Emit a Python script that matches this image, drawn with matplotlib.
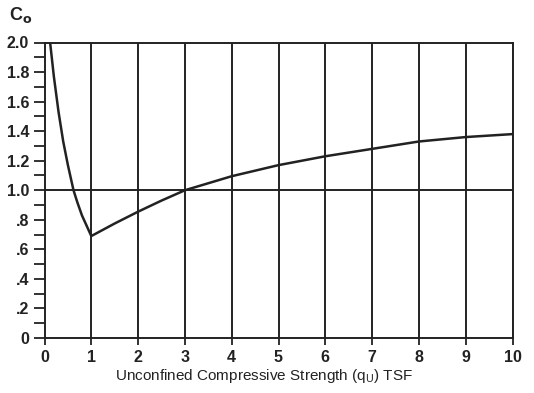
import matplotlib
matplotlib.use("Agg")
import matplotlib.pyplot as plt
import numpy as np

# Data
qu = [0.12, 0.2, 0.3, 0.4, 0.5, 0.62, 0.7, 0.8, 0.9, 1.0, 1.5, 2.0, 2.5, 3.0, 4.0, 5.0, 6.0, 7.0, 8.0, 9.0, 10.0]
co = [2.00, 1.77, 1.53, 1.33, 1.17, 1.00, 0.92, 0.83, 0.76, 0.69, 0.775, 0.855, 0.93, 1.00, 1.095, 1.17, 1.23, 1.28, 1.33, 1.36, 1.38]

x_ticks = list(range(0, 11))
x_labels = [str(v) for v in x_ticks]
y_ticks = [0, 0.2, 0.4, 0.6, 0.8, 1.0, 1.2, 1.4, 1.6, 1.8, 2.0]
y_labels = ["0", ".2", ".4", ".6", ".8", "1.0", "1.2", "1.4", "1.6", "1.8", "2.0"]

plt.rcParams['font.family'] = ['Liberation Sans', 'DejaVu Sans']
ink = '#222222'

fig = plt.figure(figsize=(5.34, 3.93), dpi=100)
ax = fig.add_axes([44.5/534, 1 - 338/393, (512.5-44.5)/534, (338-42.5)/393])

ax.plot(qu, co, color=ink, lw=1.8, solid_capstyle='round', solid_joinstyle='round')
ax.axhline(1.0, color=ink, lw=1.4)
for xv in x_ticks[1:]:
    ax.axvline(xv, color=ink, lw=1.4)

ax.set_xlim(0, 10)
ax.set_ylim(0, 2)
for s in ax.spines.values():
    s.set_color(ink)
    s.set_linewidth(1.4)

ax.set_xticks(x_ticks)
ax.set_xticklabels(x_labels, fontsize=11.5, fontweight='bold', color=ink)
ax.set_yticks(y_ticks)
ax.set_yticklabels(y_labels, fontsize=11.5, fontweight='bold', color=ink)
ax.set_yticks(np.arange(0.1, 2.0, 0.2), minor=True)
ax.tick_params(axis='y', which='both', direction='out', length=8, width=1.3, color=ink, pad=3, right=False)
ax.tick_params(axis='x', which='both', direction='out', length=5, width=1.3, color=ink, pad=4, top=False)

fig.text(264/534, 1 - 376/393, r'Unconfined Compressive Strength (q$_\mathregular{U}$) TSF',
         ha='center', va='center', fontsize=11, color=ink)
fig.text(9/534, 1 - 15/393, r'C$_{\mathregular{\mathbf{o}}}$', ha='left', va='center',
         fontsize=13, fontweight='bold', color=ink)

fig.savefig('out.png', dpi=100, facecolor='white')
